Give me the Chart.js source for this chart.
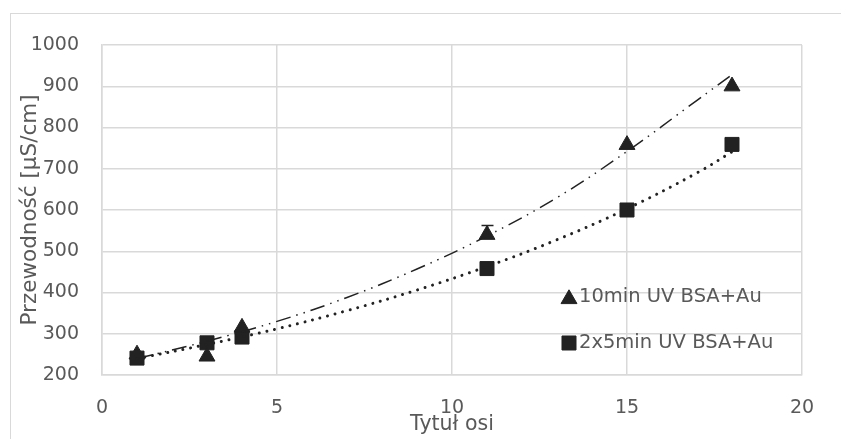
<!DOCTYPE html>
<html><head><meta charset="utf-8">
<script src="https://cdn.jsdelivr.net/npm/chart.js@4.4.1/dist/chart.umd.min.js"></script>
<style>
html,body{margin:0;padding:0;background:#fff;overflow:hidden;width:841px;height:439px}
#frame{position:absolute;left:10px;top:13px;width:900px;height:500px;border:1.5px solid #d9d9d9;box-sizing:border-box}
#wrap{position:absolute;left:0;top:0;width:841px;height:439px}
</style></head><body>
<div id="frame"></div>
<div id="wrap"><canvas id="c" width="841" height="439"></canvas></div>
<script>
// ---- data ----
const xValues = [1, 3, 4, 11, 15, 18];
const uv10 = [250, 245, 315, 540, 758, 900];
const uv2x5 = [241, 278, 292, 458, 600, 759];
const uv10ErrPlus = [0, 0, 0, 24, 0, 0];
const trendX = [1, 3, 5, 7, 9, 11, 13, 15, 17, 18];
const trend10 = [240, 282, 330, 388, 457, 537, 630, 742, 866, 928];
const trend2x5 = [240, 274, 312, 356, 406, 463, 528, 603, 690, 741];
const xTicks = [0, 5, 10, 15, 20];
const yTicks = [200, 300, 400, 500, 600, 700, 800, 900, 1000];
const seriesLabels = ['10min UV BSA+Au', '2x5min UV BSA+Au'];
const xTitle = 'Tytuł osi';
const yTitle = 'Przewodność [µS/cm]';

const FONT = 'DejaVu Sans';
const TXT = '#595959';
const GRID = '#d9d9d9';
const INK = '#222222';

const pts = (xs, ys) => xs.map((x, i) => ({x: x, y: ys[i]}));

const errorBars = {
  id: 'errorBars',
  afterDatasetsDraw(chart) {
    const {ctx, scales: {x, y}} = chart;
    ctx.save();
    ctx.strokeStyle = INK; ctx.lineWidth = 1.5;
    xValues.forEach((xv, i) => {
      const e = uv10ErrPlus[i];
      if (!e) return;
      const px = Math.round(x.getPixelForValue(xv)) + 0.5;
      const y0 = y.getPixelForValue(uv10[i]);
      const y1 = Math.round(y.getPixelForValue(uv10[i] + e)) + 0.5;
      ctx.beginPath();
      ctx.moveTo(px, y0); ctx.lineTo(px, y1);
      ctx.moveTo(px - 6, y1); ctx.lineTo(px + 6, y1);
      ctx.stroke();
    });
    ctx.restore();
  }
};

const legendBox = {
  id: 'legendBox',
  afterDraw(chart) {
    const ctx = chart.ctx;
    const items = [
      {label: seriesLabels[0], style: 'triangle', r: 9.2, y: 297},
      {label: seriesLabels[1], style: 'rect', r: 9.9, y: 343}
    ];
    ctx.save();
    items.forEach(it => {
      ctx.fillStyle = INK; ctx.strokeStyle = INK; ctx.lineWidth = 1;
      Chart.helpers.drawPoint(ctx, {pointStyle: it.style, radius: it.r, borderWidth: 1}, 569, it.y + (it.style === 'triangle' ? 2 : 0));
      ctx.fillStyle = TXT;
      ctx.font = '19.5px "' + FONT + '"';
      ctx.textBaseline = 'middle';
      ctx.textAlign = 'left';
      ctx.fillText(it.label, 579, it.y);
    });
    ctx.restore();
  }
};

new Chart(document.getElementById('c'), {
  type: 'scatter',
  data: {
    datasets: [
      {label: seriesLabels[0] + ' trend', data: pts(trendX, trend10), showLine: true, pointRadius: 0,
       borderColor: INK, borderWidth: 1.5, borderDash: [15, 6, 1.5, 6, 1.5, 6], tension: 0.4, fill: false},
      {label: seriesLabels[1] + ' trend', data: pts(trendX, trend2x5), showLine: true, pointRadius: 0,
       borderColor: INK, borderWidth: 3, borderDash: [0.01, 7.8], borderCapStyle: 'round', tension: 0.4, fill: false},
      {label: seriesLabels[0], data: pts(xValues, uv10), pointStyle: 'triangle', pointRadius: 9.2,
       backgroundColor: INK, borderColor: INK, borderWidth: 1},
      {label: seriesLabels[1], data: pts(xValues, uv2x5), pointStyle: 'rect', pointRadius: 9.9,
       backgroundColor: INK, borderColor: INK, borderWidth: 1}
    ]
  },
  options: {
    responsive: false, animation: false, devicePixelRatio: 1,
    layout: {padding: {left: 0, top: 45, right: 39, bottom: 0}},
    plugins: {legend: {display: false}, tooltip: {enabled: false}},
    scales: {
      x: {
        type: 'linear', min: 0, max: 20,
        afterBuildTicks: s => { s.ticks = xTicks.map(v => ({value: v})); },
        afterFit: s => { s.height = 64; },
        grid: {color: GRID, lineWidth: 1.5, drawTicks: false},
        border: {color: GRID, width: 1.5},
        ticks: {color: TXT, font: {family: FONT, size: 19}, padding: 22, maxRotation: 0, callback: v => String(v)},
        title: {display: true, text: xTitle, color: TXT, font: {family: FONT, size: 20.5}, padding: {top: 0, bottom: 2}}
      },
      y: {
        type: 'linear', min: 200, max: 1000,
        afterBuildTicks: s => { s.ticks = yTicks.map(v => ({value: v})); },
        afterFit: s => { s.width = 102; },
        grid: {color: GRID, lineWidth: 1.5, drawTicks: false},
        border: {color: GRID, width: 1.5},
        ticks: {color: TXT, font: {family: FONT, size: 19}, padding: 23, callback: v => String(v)},
        title: {display: true, text: yTitle, color: TXT, font: {family: FONT, size: 21.5}, padding: {top: 18, bottom: 0}}
      }
    }
  },
  plugins: [errorBars, legendBox]
});
</script>
</body></html>
